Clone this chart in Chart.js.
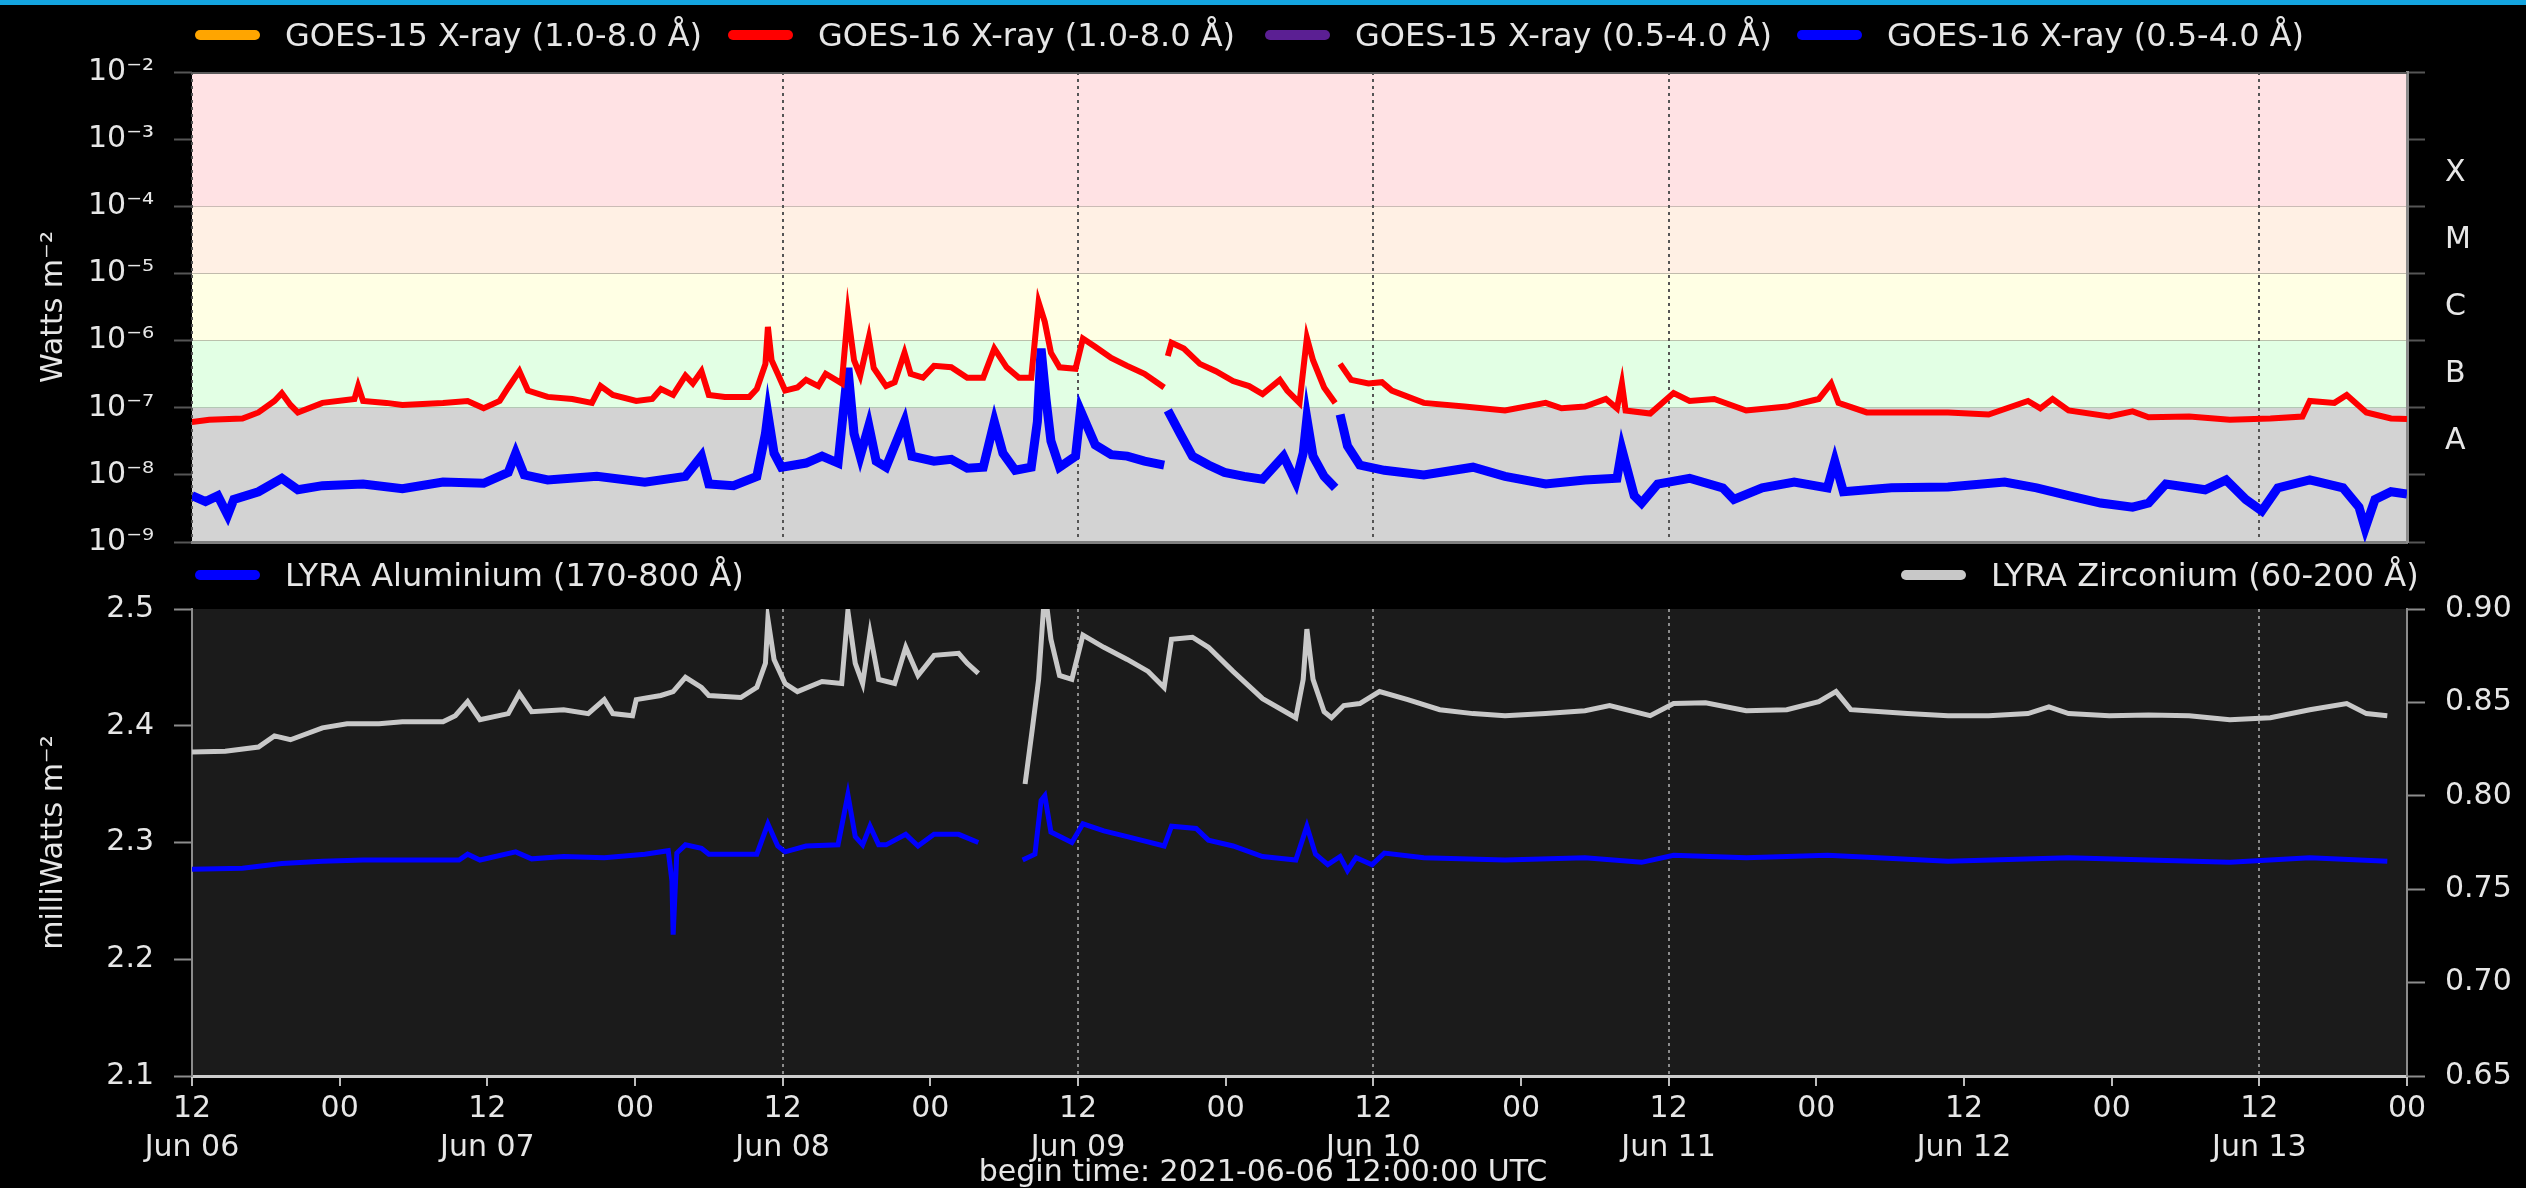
<!DOCTYPE html>
<html>
<head>
<meta charset="utf-8">
<script src="https://cdn.jsdelivr.net/npm/chart.js@4.4.1/dist/chart.umd.min.js"></script>
<style>
    html, body { margin: 0; padding: 0; background: #000; width: 2526px; height: 1188px; overflow: hidden;
        font-family: 'DejaVu Sans', sans-serif; color: #e6e6e6; }
    #topbar { position: absolute; left: 0; top: 0; width: 2526px; height: 5px; background: #14a5e0; z-index: 3; }
    .wrap { position: absolute; left: 0; width: 2526px; }
    #wrap-top { top: 0; height: 580px; }
    #wrap-bot { top: 560px; height: 628px; }
    .leg { position: absolute; font-size: 32px; line-height: 38px; white-space: nowrap; }
    .leg i { position: absolute; left: -90px; top: 14px; width: 65px; height: 10px; border-radius: 5px; }
    #begin { position: absolute; left: 0; top: 1152px; width: 2526px; text-align: center; font-size: 30px; line-height: 38px; }
</style>
</head>
<body>
<div id="topbar"></div>
<div class="wrap" id="wrap-top"><canvas id="goesChart"></canvas></div>
<div class="wrap" id="wrap-bot"><canvas id="lyraChart"></canvas></div>

<div class="leg" style="left:285px;top:16px"><i style="background:#ffa500"></i>GOES-15 X-ray (1.0-8.0 Å)</div>
<div class="leg" style="left:818px;top:16px"><i style="background:#ff0000"></i>GOES-16 X-ray (1.0-8.0 Å)</div>
<div class="leg" style="left:1355px;top:16px"><i style="background:#5b1f93"></i>GOES-15 X-ray (0.5-4.0 Å)</div>
<div class="leg" style="left:1887px;top:16px"><i style="background:#0000ff"></i>GOES-16 X-ray (0.5-4.0 Å)</div>
<div class="leg" style="left:285px;top:556px"><i style="background:#0000ff"></i>LYRA Aluminium (170-800 Å)</div>
<div class="leg" style="left:1991px;top:556px"><i style="background:#c8c8c8"></i>LYRA Zirconium (60-200 Å)</div>
<div id="begin">begin time: 2021-06-06 12:00:00 UTC</div>

<script>
// hours since 2021-06-06 12:00 UTC
const xTickLabels = [['12', 'Jun 06'], '00', ['12', 'Jun 07'], '00', ['12', 'Jun 08'], '00', ['12', 'Jun 09'], '00',
    ['12', 'Jun 10'], '00', ['12', 'Jun 11'], '00', ['12', 'Jun 12'], '00', ['12', 'Jun 13'], '00'];
const markerHours = [0, 48, 72, 96, 120, 168]; // dotted day markers

const fluxTicks = [1e-9, 1e-8, 1e-7, 1e-6, 1e-5, 1e-4, 1e-3, 1e-2];
const fluxTickLabels = ['10⁻⁹', '10⁻⁸', '10⁻⁷', '10⁻⁶', '10⁻⁵', '10⁻⁴', '10⁻³', '10⁻²'];
const classCenters = [3.16e-8, 3.16e-7, 3.16e-6, 3.16e-5, 3.16e-4];
const classLetters = ['A', 'B', 'C', 'M', 'X'];
const classEdges = [1e-9, 1e-7, 1e-6, 1e-5, 1e-4, 1e-2];
const classColors = ['#d3d3d3', '#e2ffe4', '#ffffe4', '#fff0e4', '#ffe2e4'];

// GOES-16 1.0-8.0 A  [hour, W/m2]
const goes16Long = [[0,6.1e-8],[1.4,6.6e-8],[4.1,6.9e-8],[5.4,8.5e-8],[6.7,1.26e-7],[7.3,1.65e-7],[8.0,1.1e-7],[8.6,8.5e-8],
    [10.6,1.18e-7],[13.2,1.35e-7],[13.5,2.1e-7],[13.9,1.26e-7],[15.8,1.18e-7],[17.1,1.1e-7],[20.4,1.18e-7],[22.4,1.26e-7],
    [23.7,9.8e-8],[25.0,1.26e-7],[25.7,2.0e-7],[26.6,3.5e-7],[27.3,1.8e-7],[28.9,1.45e-7],[30.9,1.35e-7],[32.5,1.18e-7],
    [33.2,2.1e-7],[34.2,1.55e-7],[36.1,1.26e-7],[37.4,1.35e-7],[38.1,1.9e-7],[39.1,1.55e-7],[40.1,3.0e-7],[40.7,2.3e-7],
    [41.4,3.5e-7],[42.0,1.55e-7],[43.3,1.45e-7],[45.3,1.45e-7],[45.9,1.9e-7],[46.6,4.5e-7],[46.8,1.6e-6],[47.1,5.1e-7],
    [47.6,3.2e-7],[48.2,1.8e-7],[49.2,2.0e-7],[49.9,2.6e-7],[50.9,2.1e-7],[51.5,3.2e-7],[52.8,2.3e-7],[53.3,2.5e-6],
    [53.8,5.1e-7],[54.3,3.0e-7],[55.0,1.1e-6],[55.4,3.9e-7],[56.4,2.1e-7],[57.1,2.4e-7],[57.9,6.6e-7],[58.4,3.2e-7],
    [59.4,2.8e-7],[60.3,4.2e-7],[61.7,4.0e-7],[63.0,2.8e-7],[64.3,2.8e-7],[65.2,7.6e-7],[66.2,4.0e-7],[67.2,2.8e-7],
    [68.2,2.8e-7],[68.8,3.7e-6],[69.3,1.9e-6],[69.8,6.6e-7],[70.5,4.0e-7],[71.8,3.8e-7],[72.4,1.07e-6],[73.4,8.1e-7],
    [74.7,5.5e-7],[76.0,4.2e-7],[77.4,3.2e-7],[79.0,2.0e-7],[79.1,null],[79.3,5.9e-7],[79.6,9.3e-7],[80.6,7.6e-7],
    [81.9,4.5e-7],[83.2,3.5e-7],[84.6,2.5e-7],[85.9,2.1e-7],[87.0,1.6e-7],[88.4,2.6e-7],[89.0,1.8e-7],[90.0,1.18e-7],
    [90.6,1.1e-6],[91.1,5.1e-7],[92.0,2.0e-7],[92.9,1.18e-7],[93.1,null],[93.3,4.5e-7],[94.2,2.6e-7],[95.6,2.3e-7],
    [96.7,2.4e-7],[97.5,1.8e-7],[100.1,1.18e-7],[103.4,1.04e-7],[106.7,9.1e-8],[110.0,1.18e-7],[111.3,9.8e-8],
    [113.2,1.04e-7],[114.9,1.35e-7],[115.8,9.8e-8],[116.2,2.3e-7],[116.5,9.1e-8],[118.5,8.2e-8],[120.4,1.65e-7],
    [121.7,1.26e-7],[123.7,1.35e-7],[126.3,9.1e-8],[129.6,1.04e-7],[132.2,1.35e-7],[133.2,2.3e-7],[133.8,1.18e-7],
    [136.1,8.5e-8],[139.4,8.5e-8],[142.7,8.5e-8],[146.0,7.9e-8],[149.2,1.26e-7],[150.2,9.8e-8],[151.2,1.35e-7],
    [152.5,9.1e-8],[155.8,7.4e-8],[157.7,8.8e-8],[159.0,7.2e-8],[162.3,7.4e-8],[165.6,6.6e-8],[168.9,6.9e-8],
    [171.5,7.4e-8],[172.1,1.26e-7],[174.1,1.18e-7],[175.1,1.55e-7],[176.7,8.5e-8],[178.7,6.9e-8],[180.0,6.8e-8]];

// GOES-16 0.5-4.0 A  [hour, W/m2]
const goes16Short = [[0,4.9e-9],[1.1,4.0e-9],[2.1,4.9e-9],[2.9,2.5e-9],[3.4,4.3e-9],[5.4,5.6e-9],[7.3,8.9e-9],[8.6,6.0e-9],
    [10.6,6.9e-9],[13.9,7.3e-9],[17.1,6.2e-9],[20.4,7.8e-9],[23.7,7.5e-9],[25.7,1.09e-8],[26.3,2.1e-8],[27.0,1.0e-8],
    [28.9,8.4e-9],[32.9,9.5e-9],[36.8,7.8e-9],[40.1,9.5e-9],[41.4,1.9e-8],[42.0,7.3e-9],[44.0,6.9e-9],[45.9,9.5e-9],
    [46.6,4.1e-8],[46.8,8.0e-8],[47.3,2.1e-8],[47.9,1.3e-8],[49.9,1.5e-8],[51.2,1.9e-8],[52.5,1.5e-8],[53.3,3.9e-7],
    [53.8,4.1e-8],[54.3,1.9e-8],[55.0,5.4e-8],[55.6,1.6e-8],[56.4,1.3e-8],[57.9,6.2e-8],[58.5,1.9e-8],[60.3,1.6e-8],
    [61.7,1.7e-8],[63.0,1.26e-8],[64.3,1.3e-8],[65.2,6.2e-8],[65.9,2.1e-8],[66.9,1.17e-8],[68.2,1.3e-8],[68.7,6.2e-8],
    [69.0,7.6e-7],[69.4,1.35e-7],[69.8,3.2e-8],[70.5,1.3e-8],[71.8,1.9e-8],[72.2,9.1e-8],[73.4,2.8e-8],[74.7,2.0e-8],
    [76.0,1.9e-8],[77.4,1.6e-8],[79.0,1.4e-8],[79.1,null],[79.3,9.1e-8],[80.3,4.1e-8],[81.3,1.9e-8],[82.6,1.4e-8],
    [83.9,1.09e-8],[85.5,9.5e-9],[87.0,8.6e-9],[88.7,1.9e-8],[89.7,7.8e-9],[90.3,2.1e-8],[90.6,6.9e-8],[91.1,1.9e-8],
    [92.0,9.5e-9],[92.9,6.4e-9],[93.1,null],[93.3,7.9e-8],[93.9,2.7e-8],[94.9,1.4e-8],[96.9,1.17e-8],[100.1,1.0e-8],
    [104.1,1.3e-8],[106.7,9.5e-9],[110.0,7.3e-9],[113.2,8.4e-9],[115.8,8.9e-9],[116.2,2.4e-8],[117.2,4.9e-9],
    [117.8,3.8e-9],[119.1,7.3e-9],[121.7,8.9e-9],[124.4,6.4e-9],[125.3,4.3e-9],[127.6,6.4e-9],[130.2,7.8e-9],
    [132.9,6.4e-9],[133.5,1.6e-8],[134.2,5.6e-9],[138.1,6.4e-9],[142.7,6.6e-9],[147.3,7.8e-9],[149.9,6.4e-9],
    [152.5,4.9e-9],[155.1,3.8e-9],[157.7,3.3e-9],[159.0,3.8e-9],[160.4,7.3e-9],[163.6,6.0e-9],[165.3,8.4e-9],
    [166.9,4.3e-9],[168.2,2.9e-9],[169.5,6.4e-9],[172.1,8.4e-9],[174.8,6.4e-9],[176.1,3.3e-9],[176.6,1.6e-9],
    [177.4,4.3e-9],[178.7,5.6e-9],[180.0,5.2e-9]];

// LYRA Zirconium 60-200 A  [hour, mW/m2] (right axis)
const lyraZirconium = [[0,0.8235],[2.7,0.8239],[5.4,0.8261],[6.7,0.8321],[8.0,0.830],[10.6,0.8364],[12.6,0.8386],
    [15.2,0.8386],[17.1,0.8397],[20.4,0.8397],[21.4,0.8429],[22.4,0.8504],[23.4,0.8407],[25.7,0.844],[26.6,0.8547],
    [27.6,0.845],[30.2,0.8461],[32.2,0.844],[33.5,0.8515],[34.2,0.844],[35.8,0.8429],[36.1,0.8515],[38.1,0.8537],
    [39.1,0.8558],[40.1,0.8634],[41.4,0.858],[42.0,0.8537],[44.6,0.8526],[45.9,0.858],[46.6,0.8709],[46.8,0.8946],
    [47.3,0.873],[48.2,0.8601],[49.2,0.8558],[51.2,0.8612],[52.8,0.8601],[53.3,0.8989],[53.9,0.8709],[54.5,0.8601],
    [55.1,0.887],[55.8,0.8623],[57.1,0.8601],[58.0,0.8795],[59.0,0.8644],[60.3,0.8752],[62.3,0.8763],[63.0,0.8709],
    [63.9,0.8655],[64.2,null],[67.7,0.8063],[68.3,0.8364],[68.8,0.8623],[69.3,0.91],[69.8,0.8838],[70.5,0.8644],
    [71.5,0.8623],[72.4,0.886],[74.1,0.8795],[76.0,0.873],[77.7,0.8666],[79.0,0.858],[79.6,0.8838],[81.3,0.8849],
    [82.6,0.8795],[84.6,0.8666],[87.0,0.852],[89.7,0.8418],[90.3,0.8623],[90.6,0.8892],[91.1,0.8623],[92.0,0.845],
    [92.6,0.8418],[93.6,0.8483],[94.9,0.8494],[96.5,0.8558],[98.8,0.8515],[101.4,0.8461],[104.1,0.844],[106.7,0.8429],
    [110.0,0.844],[113.2,0.8455],[115.2,0.8483],[118.5,0.8429],[120.4,0.8494],[123.0,0.8498],[126.3,0.8455],
    [129.6,0.8461],[132.2,0.8504],[133.6,0.8558],[134.8,0.8461],[139.4,0.844],[142.7,0.8429],[146.0,0.8429],
    [149.2,0.844],[150.9,0.8476],[152.5,0.844],[155.8,0.8429],[159.0,0.8433],[162.3,0.8429],[165.6,0.8407],
    [168.9,0.8418],[172.1,0.8461],[175.1,0.8494],[176.7,0.844],[178.4,0.8429]];

// LYRA Aluminium 170-800 A  [hour, mW/m2] (left axis)
const lyraAluminium = [[0,2.277],[4.1,2.278],[7.3,2.282],[10.6,2.284],[13.9,2.285],[20.4,2.285],[21.7,2.285],[22.4,2.290],
    [23.4,2.285],[26.3,2.292],[27.6,2.286],[30.2,2.288],[33.5,2.287],[36.8,2.290],[38.7,2.293],[39.0,2.267],[39.1,2.221],
    [39.4,2.291],[40.1,2.298],[41.4,2.295],[42.0,2.290],[45.9,2.290],[46.8,2.316],[47.6,2.297],[48.2,2.292],[49.9,2.297],
    [52.5,2.298],[53.3,2.341],[53.9,2.305],[54.5,2.298],[55.1,2.314],[55.8,2.298],[56.4,2.298],[58.0,2.307],[59.0,2.297],
    [60.3,2.307],[62.3,2.307],[63.9,2.300],[64.2,null],[67.5,2.285],[68.5,2.290],[69.0,2.336],[69.3,2.340],[69.8,2.309],
    [71.5,2.300],[72.4,2.316],[74.1,2.310],[76.0,2.305],[79.0,2.297],[79.6,2.314],[81.6,2.312],[82.6,2.302],[84.6,2.297],
    [87.0,2.288],[89.7,2.285],[90.6,2.314],[91.3,2.290],[92.3,2.281],[93.3,2.288],[93.9,2.276],[94.6,2.287],[95.9,2.281],
    [96.9,2.291],[100.1,2.287],[106.7,2.285],[113.2,2.287],[117.8,2.283],[120.4,2.289],[126.3,2.287],[132.9,2.289],
    [142.7,2.284],[152.5,2.287],[159.0,2.285],[165.6,2.283],[172.1,2.287],[178.4,2.284]];

const toXY = (pairs) => pairs.map(([x, y]) => ({ x, y }));

Chart.defaults.font.family = "'DejaVu Sans', sans-serif";
Chart.defaults.font.size = 30;
Chart.defaults.color = '#e6e6e6';

// paints the flare class bands / panel background under the grid
const panelPaint = {
    id: 'panelPaint',
    beforeDraw(chart, args, opts) {
        const { ctx, chartArea: a } = chart;
        ctx.save();
        if (opts.bands) {
            const y = chart.scales.y;
            for (let i = 0; i < opts.colors.length; i++) {
                const top = y.getPixelForValue(opts.bands[i + 1]);
                const bot = y.getPixelForValue(opts.bands[i]);
                ctx.fillStyle = opts.colors[i];
                ctx.fillRect(a.left, top, a.right - a.left, bot - top);
            }
        } else if (opts.background) {
            ctx.fillStyle = opts.background;
            ctx.fillRect(a.left, a.top, a.right - a.left, a.bottom - a.top);
        }
        ctx.restore();
    },
    afterDraw(chart, args, opts) {
        if (!opts.topLine) return;
        const { ctx, chartArea: a } = chart;
        ctx.save();
        ctx.strokeStyle = opts.topLine;
        ctx.lineWidth = 2;
        ctx.beginPath();
        ctx.moveTo(a.left, a.top + 1);
        ctx.lineTo(a.right, a.top + 1);
        ctx.stroke();
        ctx.restore();
    }
};

const markerColor = (c, col) => (c.tick && markerHours.includes(c.tick.value)) ? col : 'transparent';

new Chart(document.getElementById('goesChart'), {
    type: 'line',
    data: {
        datasets: [
            { label: 'GOES-16 X-ray (1.0-8.0 Å)', data: toXY(goes16Long), borderColor: '#ff0000', borderWidth: 6, yAxisID: 'y' },
            { label: 'GOES-16 X-ray (0.5-4.0 Å)', data: toXY(goes16Short), borderColor: '#0000ff', borderWidth: 9, yAxisID: 'y' }
        ]
    },
    options: {
        responsive: true, maintainAspectRatio: false, animation: false,
        spanGaps: false,
        elements: { point: { radius: 0 }, line: { tension: 0, borderJoinStyle: 'miter' } },
        layout: { padding: { top: 72, left: 0, right: 0, bottom: 0 } },
        plugins: {
            legend: { display: false }, tooltip: { enabled: false },
            panelPaint: { bands: classEdges, colors: classColors, topLine: '#5a5a5a' }
        },
        scales: {
            x: {
                type: 'linear', min: 0, max: 180,
                ticks: { display: false, stepSize: 12 },
                grid: { color: c => markerColor(c, '#555'), lineWidth: 2, drawTicks: false },
                border: { color: '#808080', width: 3, dash: [3, 4] },
                afterFit: s => { s.height = 20; }
            },
            y: {
                type: 'logarithmic', position: 'left', min: 1e-9, max: 1e-2,
                afterBuildTicks: s => { s.ticks = fluxTicks.map(v => ({ value: v })); },
                ticks: { autoSkip: false, padding: 20, callback: (v, i) => fluxTickLabels[i] },
                grid: { drawOnChartArea: false, tickLength: 18, tickColor: '#555', tickWidth: 2 },
                border: { display: false },
                title: { display: true, text: 'Watts m⁻²', padding: { top: 36, bottom: 0 } },
                afterFit: s => { s.width = 192; }
            },
            y2: {
                type: 'logarithmic', position: 'right', min: 1e-9, max: 1e-2,
                afterBuildTicks: s => {
                    s.ticks = fluxTicks.concat(classCenters).sort((a, b) => a - b).map(v => ({ value: v }));
                },
                ticks: {
                    autoSkip: false, padding: 20,
                    callback: (v) => { const k = classCenters.indexOf(v); return k >= 0 ? classLetters[k] : ''; }
                },
                grid: {
                    drawOnChartArea: false, tickLength: 18, tickWidth: 2,
                    tickColor: c => (c.tick && classCenters.includes(c.tick.value)) ? 'transparent' : '#555'
                },
                border: { color: '#8c8c8c', width: 3 },
                afterFit: s => { s.width = 119; }
            }
        }
    },
    plugins: [panelPaint]
});

new Chart(document.getElementById('lyraChart'), {
    type: 'line',
    data: {
        datasets: [
            { label: 'LYRA Aluminium (170-800 Å)', data: toXY(lyraAluminium), borderColor: '#0000ff', borderWidth: 5, yAxisID: 'y' },
            { label: 'LYRA Zirconium (60-200 Å)', data: toXY(lyraZirconium), borderColor: '#c8c8c8', borderWidth: 5, yAxisID: 'y2' }
        ]
    },
    options: {
        responsive: true, maintainAspectRatio: false, animation: false,
        spanGaps: false,
        elements: { point: { radius: 0 }, line: { tension: 0 } },
        layout: { padding: { top: 49, left: 0, right: 0, bottom: 0 } },
        plugins: {
            legend: { display: false }, tooltip: { enabled: false },
            panelPaint: { background: '#1b1b1b' }
        },
        scales: {
            x: {
                type: 'linear', min: 0, max: 180,
                ticks: { stepSize: 12, autoSkip: false, maxRotation: 0, padding: 4,
                    font: { size: 30, lineHeight: 1.3 }, callback: (v, i) => xTickLabels[i] },
                grid: { color: c => markerColor(c, '#8c8c8c'), lineWidth: 2, tickLength: 10,
                    tickColor: '#bdbdbd', tickWidth: 2 },
                border: { color: '#cccccc', width: 3, dash: [3, 4] },
                afterFit: s => { s.height = 112; }
            },
            y: {
                type: 'linear', position: 'left', min: 2.1, max: 2.5,
                ticks: { stepSize: 0.1, autoSkip: false, padding: 20, callback: v => v.toFixed(1) },
                grid: { drawOnChartArea: false, tickLength: 18, tickColor: '#8c8c8c', tickWidth: 2 },
                border: { color: '#8c8c8c', width: 2 },
                title: { display: true, text: 'milliWatts m⁻²', padding: { top: 36, bottom: 0 } },
                afterFit: s => { s.width = 192; }
            },
            y2: {
                type: 'linear', position: 'right', min: 0.65, max: 0.9,
                ticks: { stepSize: 0.05, autoSkip: false, padding: 20, callback: v => v.toFixed(2) },
                grid: { drawOnChartArea: false, tickLength: 18, tickColor: '#8c8c8c', tickWidth: 2 },
                border: { color: '#8c8c8c', width: 2 },
                afterFit: s => { s.width = 119; }
            }
        }
    },
    plugins: [panelPaint]
});
</script>
</body>
</html>
